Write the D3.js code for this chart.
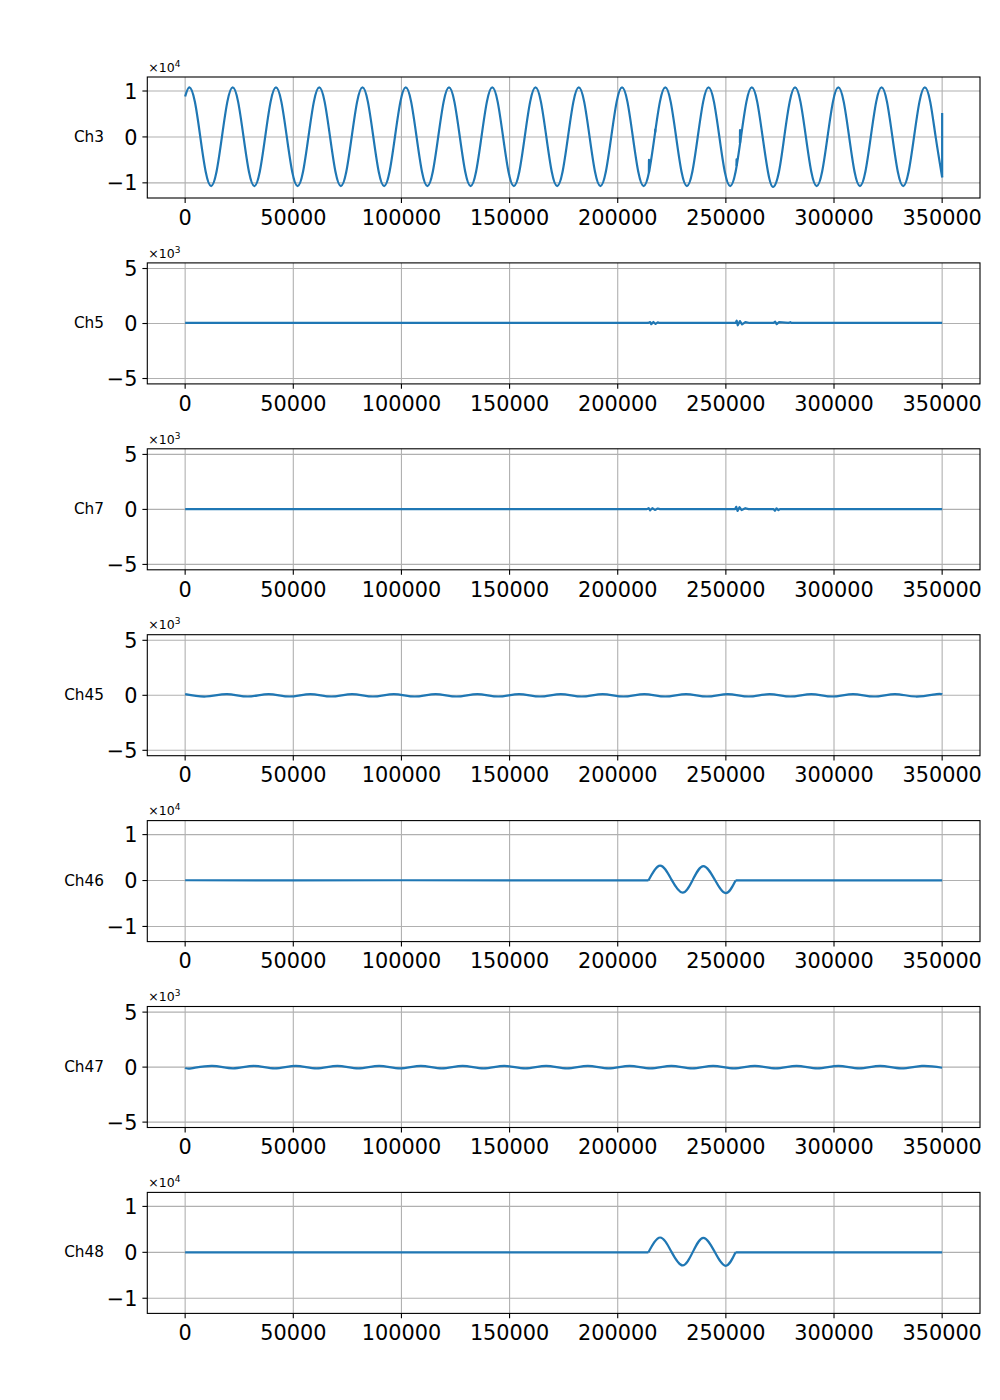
<!DOCTYPE html>
<html><head><meta charset="utf-8">
<script src="https://cdn.jsdelivr.net/npm/d3@7"></script>
<style>body{margin:0;background:#fff} svg{display:block}</style>
</head><body>
<svg id="chart" width="1000" height="1400"></svg>
<script>
// ---------- data ----------
const channels = ["Ch3", "Ch5", "Ch7", "Ch45", "Ch46", "Ch47", "Ch48"];
const offsetExps = [4, 3, 3, 3, 4, 3, 4];
const xTicks = [0, 50000, 100000, 150000, 200000, 250000, 300000, 350000];
const xTickLabels = ["0", "50000", "100000", "150000", "200000", "250000", "300000", "350000"];
const yTicksLarge = [-10000, 0, 10000];
const yTickLabelsLarge = ["\u22121", "0", "1"];
const yTicksSmall = [-5000, 0, 5000];
const yTickLabelsSmall = ["\u22125", "0", "5"];
const yDomainLarge = [-13300, 13050];
const yDomainSmall = [-5490, 5510];
const xDomain = [-17500, 367500];

// Ch3: carrier read at eighth-period points
const ch3Wave = [
  [0,8800],[2000,10800],
  [4500,7640],[7000,0],[9500,-7600],[12000,-10700],[14500,-7600],[17000,0],[19500,7640],[22000,10800],
  [24500,7640],[27000,0],[29500,-7600],[32000,-10700],[34500,-7600],[37000,0],[39500,7640],[42000,10800],
  [44500,7640],[47000,0],[49500,-7600],[52000,-10700],[54500,-7600],[57000,0],[59500,7640],[62000,10800],
  [64500,7640],[67000,0],[69500,-7600],[72000,-10700],[74500,-7600],[77000,0],[79500,7640],[82000,10800],
  [84500,7640],[87000,0],[89500,-7600],[92000,-10700],[94500,-7600],[97000,0],[99500,7640],[102000,10800],
  [104500,7640],[107000,0],[109500,-7600],[112000,-10700],[114500,-7600],[117000,0],[119500,7640],[122000,10800],
  [124500,7640],[127000,0],[129500,-7600],[132000,-10700],[134500,-7600],[137000,0],[139500,7640],[142000,10800],
  [144500,7640],[147000,0],[149500,-7600],[152000,-10700],[154500,-7600],[157000,0],[159500,7640],[162000,10800],
  [164500,7640],[167000,0],[169500,-7600],[172000,-10700],[174500,-7600],[177000,0],[179500,7640],[182000,10800],
  [184500,7640],[187000,0],[189500,-7600],[192000,-10700],[194500,-7600],[197000,0],[199500,7640],[202000,10800],
  [204500,7640],[207000,0],[209500,-7600],[212000,-10700],[214500,-7600],[217000,0],[219500,7640],[222000,10800],
  [224500,7640],[227000,0],[229500,-7600],[232000,-10700],[234500,-7600],[237000,0],[239500,7640],[242000,10800],
  [244500,7640],[247000,0],[249500,-7600],[252000,-10700],[254500,-7600],[257000,0],[259500,7640],[262000,10800],
  [264500,7640],[267000,0],[269500,-7700],[271800,-10900],[274500,-7700],[277000,0],[279500,7640],[282000,10800],
  [284500,7640],[287000,0],[289500,-7600],[292000,-10700],[294500,-7600],[297000,0],[299500,7640],[302000,10800],
  [304500,7640],[307000,0],[309500,-7600],[312000,-10700],[314500,-7600],[317000,0],[319500,7640],[322000,10800],
  [324500,7640],[327000,0],[329500,-7600],[332000,-10700],[334500,-7600],[337000,0],[339500,7640],[342000,10800],
  [344500,7640],[347000,0],[350000,-8800]
];
const ch3Glitches = [
  [[214400,-7700],[214450,-5000],[214500,-7600]],
  [[217300,1000],[217350,1600],[217400,1100]],
  [[254900,-6300],[254950,-4900],[255000,-6200]],
  [[256500,-1300],[256550,1500],[256600,-1200]],
  [[350000,-8800],[350000,5200]]
];

const ch5Trace = [
  [0,50],[214000,50],[215000,130],[215500,-60],[216500,140],[217500,-40],[218500,100],[219500,50],
  [254500,50],[255000,260],[255500,-160],[256500,220],[257500,-80],[259000,130],[261000,50],
  [272000,50],[272800,160],[273500,-60],[274500,120],[279000,60],[279800,120],[280300,50],[350000,50]
];
const ch7Trace = [
  [0,30],[213500,30],[214300,120],[215000,-80],[216000,110],[217200,-50],[218500,80],[219500,30],
  [254300,30],[254800,240],[255400,-140],[256300,200],[257300,-60],[259000,110],[260500,30],
  [272000,30],[272700,-120],[273400,90],[274300,-60],[275000,30],[350000,30]
];

const ch45Wave = [
  [0,110],[9650,-110],[19300,110],[28950,-110],[38600,110],[48250,-110],[57900,110],[67550,-110],
  [77200,110],[86850,-110],[96500,110],[106150,-110],[115800,110],[125450,-110],[135100,110],
  [144750,-110],[154400,110],[164050,-110],[173700,110],[183350,-110],[193000,110],[202650,-110],
  [212300,110],[221950,-110],[231600,110],[241250,-110],[250900,110],[260550,-110],[270200,110],
  [279850,-110],[289500,110],[299150,-110],[308800,110],[318450,-110],[328100,110],[337750,-110],
  [347400,110],[350000,80]
];

const ch46Pre = [[0,60],[50000,20],[100000,60],[150000,20],[214200,20]];
const ch46Burst = [[214200,20],[219600,3250],[224800,250],[230000,-2650],[234800,250],[239600,3150],[244800,250],[249900,-2750],[254500,20]];
const ch46Post = [[254500,20],[350000,20]];

const ch47Wave = [
  [0,-60],[2850,-110],[12500,110],[22150,-110],[31800,110],[41450,-110],[51100,110],[60750,-110],
  [70400,110],[80050,-110],[89700,110],[99350,-110],[109000,110],[118650,-110],[128300,110],
  [137950,-110],[147600,110],[157250,-110],[166900,110],[176550,-110],[186200,110],[195850,-110],
  [205500,110],[215150,-110],[224800,110],[234450,-110],[244100,110],[253750,-110],[263400,110],
  [273050,-110],[282700,110],[292350,-110],[302000,110],[311650,-110],[321300,110],[330950,-110],
  [340600,110],[350000,-60]
];

const ch48Pre = [[0,0],[214200,0]];
const ch48Burst = [[214200,0],[219600,3230],[224800,150],[230000,-2860],[234800,150],[239600,3160],[244800,150],[249900,-2930],[254500,0]];
const ch48Post = [[254500,0],[350000,0]];

// ---------- layout ----------
const svg = d3.select("#chart");
const left = 147.3, right = 980;
const top0 = 77, step = 185.9, panelH = 121;
const lineColor = "#1f77b4";
const font = "DejaVu Sans, sans-serif";

const x = d3.scaleLinear().domain(xDomain).range([left, right]);

const segs = [
  [{p: ch3Wave, c: d3.curveNatural}].concat(ch3Glitches.map(g => ({p: g, c: d3.curveLinear}))),
  [{p: ch5Trace, c: d3.curveLinear}],
  [{p: ch7Trace, c: d3.curveLinear}],
  [{p: ch45Wave, c: d3.curveNatural}],
  [{p: ch46Pre, c: d3.curveLinear}, {p: ch46Burst, c: d3.curveNatural}, {p: ch46Post, c: d3.curveLinear}],
  [{p: ch47Wave, c: d3.curveNatural}],
  [{p: ch48Pre, c: d3.curveLinear}, {p: ch48Burst, c: d3.curveNatural}, {p: ch48Post, c: d3.curveLinear}]
];

channels.forEach((name, i) => {
  const top = top0 + step * i, bottom = top + panelH;
  const large = offsetExps[i] === 4;
  const y = d3.scaleLinear().domain(large ? yDomainLarge : yDomainSmall).range([bottom, top]);
  const yT = large ? yTicksLarge : yTicksSmall;
  const yL = large ? yTickLabelsLarge : yTickLabelsSmall;
  const g = svg.append("g");

  const cid = "clip" + i;
  g.append("clipPath").attr("id", cid).append("rect")
    .attr("x", left).attr("y", top).attr("width", right - left).attr("height", panelH);

  const grid = g.append("g").attr("stroke", "#b0b0b0").attr("stroke-width", 1.1);
  xTicks.forEach(t => grid.append("line").attr("x1", x(t)).attr("x2", x(t)).attr("y1", top).attr("y2", bottom));
  yT.forEach(t => grid.append("line").attr("x1", left).attr("x2", right).attr("y1", y(t)).attr("y2", y(t)));

  const lg = g.append("g").attr("clip-path", `url(#${cid})`);
  segs[i].forEach(s => {
    const line = d3.line().x(d => x(d[0])).y(d => y(d[1])).curve(s.c);
    lg.append("path").attr("d", line(s.p)).attr("fill", "none")
      .attr("stroke", lineColor).attr("stroke-width", 2.2)
      .attr("stroke-linejoin", "round").attr("stroke-linecap", "butt");
  });

  g.append("rect").attr("x", left).attr("y", top).attr("width", right - left).attr("height", panelH)
    .attr("fill", "none").attr("stroke", "#000").attr("stroke-width", 1.1);

  xTicks.forEach((t, k) => {
    g.append("line").attr("x1", x(t)).attr("x2", x(t)).attr("y1", bottom).attr("y2", bottom + 4.9)
      .attr("stroke", "#000").attr("stroke-width", 1.1);
    g.append("text").attr("x", x(t)).attr("y", bottom + 26.7).attr("text-anchor", "middle")
      .attr("font-family", font).attr("font-size", 20.8).attr("fill", "#000").text(xTickLabels[k]);
  });
  yT.forEach((t, k) => {
    g.append("line").attr("x1", left - 4.9).attr("x2", left).attr("y1", y(t)).attr("y2", y(t))
      .attr("stroke", "#000").attr("stroke-width", 1.1);
    g.append("text").attr("x", left - 9.8).attr("y", y(t) + 7.6).attr("text-anchor", "end")
      .attr("font-family", font).attr("font-size", 20.8).attr("fill", "#000").text(yL[k]);
  });

  const ot = g.append("text").attr("x", left + 1).attr("y", top - 5.3)
    .attr("font-family", font).attr("font-size", 12.5).attr("fill", "#000");
  ot.append("tspan").text("\u00d710");
  ot.append("tspan").attr("dy", -5).attr("font-size", 9).text(String(offsetExps[i]));

  g.append("text").attr("x", 104).attr("y", (top + bottom) / 2 + 4.5).attr("text-anchor", "end")
    .attr("font-family", font).attr("font-size", 15.3).attr("fill", "#000").text(name);
});
</script>
</body></html>
